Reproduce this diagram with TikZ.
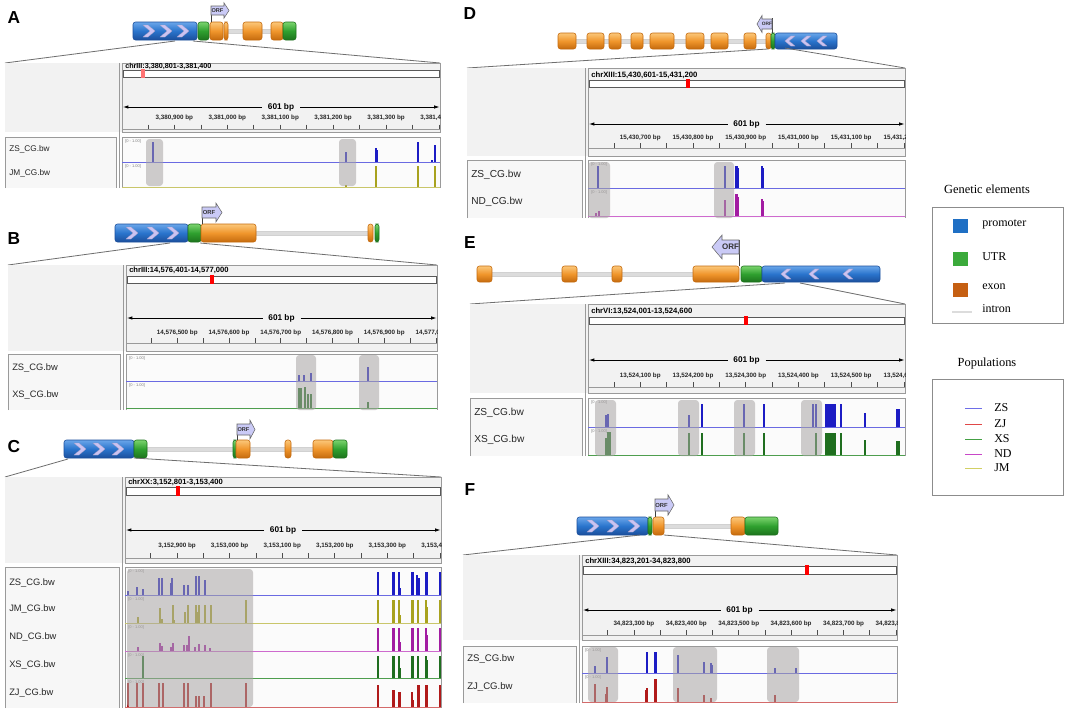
\documentclass[tikz,border=0pt]{standalone}
\usepackage{fontspec}
\setmainfont{Liberation Sans}
\newfontfamily\legfont{Liberation Serif}
\usetikzlibrary{arrows.meta}
\definecolor{hdrbg}{HTML}{F2F2F2}
\definecolor{trkbg}{HTML}{FBFBFB}
\definecolor{frm}{HTML}{9A9A9A}
\definecolor{zoomln}{HTML}{6E6E6E}
\definecolor{prmA}{HTML}{6AA6EA}
\definecolor{prmB}{HTML}{2A74CC}
\definecolor{prmC}{HTML}{1B4F9C}
\definecolor{utrA}{HTML}{7BD46E}
\definecolor{utrB}{HTML}{2FA02F}
\definecolor{utrC}{HTML}{1D731D}
\definecolor{exA}{HTML}{FBC77A}
\definecolor{exB}{HTML}{F0962C}
\definecolor{exC}{HTML}{C46A0E}
\definecolor{intr}{HTML}{DCDCDC}
\definecolor{chev}{HTML}{CBC3F2}
\definecolor{orff}{HTML}{CACAF6}
\definecolor{hlcol}{HTML}{A9A5A5}
\definecolor{zsbar}{HTML}{1C1CC4}
\definecolor{zsln}{HTML}{6A6AE2}
\definecolor{jmbar}{HTML}{A8A21E}
\definecolor{jmln}{HTML}{C9C66A}
\definecolor{ndbar}{HTML}{A21CA2}
\definecolor{ndln}{HTML}{CE6ACE}
\definecolor{xsbar}{HTML}{1F6E1F}
\definecolor{xsln}{HTML}{4E9E4E}
\definecolor{zjbar}{HTML}{B01A1A}
\definecolor{zjln}{HTML}{D46A6A}
\definecolor{lgprom}{HTML}{1F6FC4}
\definecolor{lgutr}{HTML}{3BAA3B}
\definecolor{lgexon}{HTML}{C55F12}
\definecolor{lgZS}{HTML}{6E6EE8}
\definecolor{lgZJ}{HTML}{E04848}
\definecolor{lgXS}{HTML}{44A044}
\definecolor{lgND}{HTML}{C848C8}
\definecolor{lgJM}{HTML}{D2D064}
\tikzset{
  letter/.style={inner sep=0pt,font=\fontsize{13}{13}\selectfont\bfseries},
  hdrtxt/.style={inner sep=0pt,anchor=west,font=\fontsize{\igHs}{6}\selectfont\bfseries},
  bptxt/.style={inner sep=0pt,font=\fontsize{6.2}{7}\selectfont\bfseries},
  ticktxt/.style={inner sep=0pt,font=\fontsize{4.7}{5}\selectfont\bfseries,text=black!85},
  rngtxt/.style={inner sep=0pt,anchor=west,font=\fontsize{3}{3.5}\selectfont,text=gray},
  trktxt/.style={inner sep=0pt,anchor=west,font=\fontsize{\igFs}{\igFs}\selectfont,text=black!85},
  frm/.style={draw=frm,line width=0.5pt},
  ideo/.style={draw=black!65,fill=white,line width=0.5pt},
  bparrow/.style={-{Latex[length=4pt,width=2.6pt]},line width=0.6pt},
  tickln/.style={draw=black!70,line width=0.5pt},
  zoomsty/.style={draw=zoomln,line width=0.6pt},
  exsty/.style={draw=exC,line width=0.4pt,rounded corners=1.8pt,top color=exA,bottom color=exC,middle color=exB},
  utrsty/.style={draw=utrC,line width=0.4pt,rounded corners=1.8pt,top color=utrA,bottom color=utrC,middle color=utrB},
  prmsty/.style={draw=prmC,line width=0.4pt,rounded corners=1.8pt,top color=prmA,bottom color=prmC,middle color=prmB},
  intrsty/.style={fill=intr,draw=black!18,line width=0.3pt},
  chevsty/.style={fill=chev,draw=chev!80!black,line width=0.2pt},
  orfsty/.style={fill=orff,draw=black!60,line width=0.4pt},
  flagsty/.style={draw=black!75,line width=0.5pt},
  legtitle/.style={inner sep=0pt,font=\legfont\fontsize{9.3}{10}\selectfont},
  legtxt/.style={inner sep=0pt,anchor=west,font=\legfont\fontsize{9}{10}\selectfont},
  legbox/.style={draw=black!45,line width=0.5pt}
}
\newcommand{\gexon}[2]{\draw[exsty] (#1,\gnT) rectangle (#2,\gnB);}
\newcommand{\gutr}[2]{\draw[utrsty] (#1,\gnT) rectangle (#2,\gnB);}
\newcommand{\gprom}[2]{\draw[prmsty] (#1,\gnT) rectangle (#2,\gnB);}
\newcommand{\gintr}[2]{\pgfmathsetmacro\gnM{(\gnT+\gnB)/2}\draw[intrsty] (#1,{\gnM-2.2}) rectangle (#2,{\gnM+2.2});}
\newcommand{\chevR}[3]{\filldraw[chevsty] ({#1-6*#3},{#2-6*#3}) -- ({#1-1*#3},{#2-6*#3}) -- ({#1+6*#3},#2) -- ({#1-1*#3},{#2+6*#3}) -- ({#1-6*#3},{#2+6*#3}) -- ({#1+1*#3},#2) -- cycle;}
\newcommand{\chevL}[3]{\filldraw[chevsty] ({#1+6*#3},{#2-6*#3}) -- ({#1+1*#3},{#2-6*#3}) -- ({#1-6*#3},#2) -- ({#1+1*#3},{#2+6*#3}) -- ({#1+6*#3},{#2+6*#3}) -- ({#1-1*#3},#2) -- cycle;}
\newcommand{\orfbox}[6]{\pgfmathsetmacro\orfear{(#3-#2)*0.35}\filldraw[orfsty] (#1,#2) -- (#4,#2) -- (#4,{#2-\orfear}) -- (#5,{(#2+#3)/2}) -- (#4,{#3+\orfear}) -- (#4,#3) -- (#1,#3) -- cycle; \node[inner sep=0pt,font=\fontsize{#6}{#6}\selectfont\bfseries,text=black!80] at ({(#1+#4)/2},{(#2+#3)/2}) {ORF};}
\newcommand{\igvframe}[2]{%
  \fill[hdrbg] (\igL,\igT) rectangle (\igR,\igRB);
  \fill[trkbg] (\igD,\igTr) rectangle (\igR,\igB);
  \fill[hdrbg!60!white] (\igL,\igTr) rectangle ({\igD-6},\igB);
  \draw[frm] (\igD,\igT) rectangle (\igR,\igRB);
  \draw[frm] ({\igD-3},\igT) -- ({\igD-3},\igB);
  \draw[frm] (\igL,\igB) -- (\igL,\igTr) -- ({\igD-6},\igTr) -- ({\igD-6},\igB);
  \draw[frm] (\igD,\igB) -- (\igD,\igTr) -- (\igR,\igTr) -- (\igR,\igB);
  \node[hdrtxt] at ({\igD+3},\igH) {#1};
  \draw[ideo] ({\igD+1},\igIa) rectangle ({\igR-0.5},\igIb);
  \fill[\igMc] ({\igM-1.6},{\igIa-0.6}) rectangle ({\igM+1.6},{\igIb+0.6});
  \pgfmathsetmacro\igmid{(\igD+\igR)/2}
  \node[bptxt] at (\igmid,\igA) {601 bp};
  \draw[bparrow] ({\igmid-19},\igA) -- ({\igD+1},\igA);
  \draw[bparrow] ({\igmid+19},\igA) -- ({\igR-0.5},\igA);
  \draw[frm] (\igD,\igKb) -- (\igR,\igKb);
  \foreach \k in {0,...,11}{%
    \pgfmathsetmacro\tkx{\igD+(49+50*\k)/601*(\igR-\igD)}
    \draw[tickln] (\tkx,\igKa) -- (\tkx,\igKb);}
  \begin{scope}
    \clip (\igD,\igT) rectangle (\igR,\igB);
    \foreach \k/\lab in {#2}{%
      \pgfmathsetmacro\tkx{\igD+(49+50*\k)/601*(\igR-\igD)}
      \node[ticktxt] at (\tkx,\igLb) {\lab};}
  \end{scope}
}
\newcommand{\igvtrack}[5]{%
  \node[trktxt] at ({\igL+4},#3) {#4};
  \node[rngtxt] at ({\igD+3},{#1+4}) {[0 - 1.00]};
  \draw[#5,line width=0.7pt] (\igD,#2) -- (\igR,#2);}
\newcommand{\trbars}[3]{\foreach \bx/\bt in {#3}{\draw[#1,line width=1.05pt] (\bx,#2) -- (\bx,\bt);}}
\newcommand{\hlbox}[4]{\fill[hlcol,fill opacity=0.55,rounded corners=2.5pt] (#1,#3) rectangle (#2,#4);}
\begin{document}
\begin{tikzpicture}[x=0.75pt,y=-0.75pt]
\useasboundingbox[fill=white] (0,0) rectangle (1065,711);

% ================= Panel A =================
\node[letter] (labA) at (14,18) {A};
\def\gnT{22}\def\gnB{40}
\gintr{228}{243}\gintr{262}{271}
\gprom{133}{197}
\chevR{149}{31}{1}\chevR{166}{31}{1}\chevR{183}{31}{1}
\gutr{198}{209}
\gexon{210}{223}\gexon{224}{228}\gexon{243}{262}\gexon{271}{283}\gutr{283}{296}
\draw[flagsty] (211,15) -- (211,22);
\orfbox{211}{6}{15}{224}{229}{4.2}
\def\igL{5}\def\igD{122}\def\igR{440}\def\igT{63}\def\igH{66.5}\def\igIa{70}\def\igIb{77}
\def\igM{143}\def\igMc{red!55}\def\igA{107}\def\igLb{118}\def\igKa{124.5}\def\igKb{129}
\def\igRB{132}\def\igTr{137}\def\igB{188}\def\igFs{6.2}\def\igHs{5.4}
\draw[zoomsty] (175,41) -- (\igL,\igT);
\draw[zoomsty] (193,41) -- (\igR,\igT);
\igvframe{chrIII:3,380,801-3,381,400}{1/{3,380,900 bp},3/{3,381,000 bp},5/{3,381,100 bp},7/{3,381,200 bp},9/{3,381,300 bp},11/{3,381,400 bp}}
\igvtrack{137}{162}{149}{ZS\_CG.bw}{zsln}
\igvtrack{162}{187}{173}{JM\_CG.bw}{jmln}
\trbars{zsbar}{162}{153/142, 346/152, 376/148, 377/150, 418/142, 435/145, 432/160}
\trbars{jmbar}{187}{346/185, 376/166, 418/166, 435/166}
\hlbox{146}{163}{139}{186}\hlbox{339}{356}{139}{186}

% ================= Panel B =================
\node[letter] (labB) at (14,239) {B};
\def\gnT{224}\def\gnB{242}
\gintr{256}{368}
\gprom{115}{188}
\chevR{132}{233}{1}\chevR{153}{233}{1}\chevR{173}{233}{1}
\gutr{188}{201}\gexon{201}{256}\gexon{368}{373}\gutr{375}{379}
\draw[flagsty] (202,218) -- (202,224);
\orfbox{202}{207}{218}{216}{222}{4.4}
\def\igL{8}\def\igD{126}\def\igR{437}\def\igT{265}\def\igH{270.5}\def\igIa{276}\def\igIb{283}
\def\igM{212}\def\igMc{red}\def\igA{318}\def\igLb{333}\def\igKa{338}\def\igKb{343}
\def\igRB{351}\def\igTr{354}\def\igB{410}\def\igFs{7}\def\igHs{5.7}
\draw[zoomsty] (170,243) -- (\igL,\igT);
\draw[zoomsty] (200,243) -- (\igR,\igT);
\igvframe{chrIII:14,576,401-14,577,000}{1/{14,576,500 bp},3/{14,576,600 bp},5/{14,576,700 bp},7/{14,576,800 bp},9/{14,576,900 bp},11/{14,577,000 bp}}
\igvtrack{354}{381}{368}{ZS\_CG.bw}{zsln}
\igvtrack{381}{408}{395}{XS\_CG.bw}{xsln}
\trbars{zsbar}{381}{299/375, 304/375, 311/373, 368/367}
\trbars{xsbar}{408}{299/388, 301/388, 305/387, 308/394, 311/394, 368/402}
\hlbox{296}{316}{355}{410}\hlbox{359}{379}{355}{410}

% ================= Panel C =================
\node[letter] (labC) at (14,447) {C};
\def\gnT{440}\def\gnB{458}
\gintr{147}{313}
\gprom{64}{134}
\chevR{80}{449}{1}\chevR{99}{449}{1}\chevR{118}{449}{1}
\gutr{134}{147}\gutr{233}{237}\gexon{236}{250}\gexon{285}{291}\gexon{313}{333}\gutr{333}{347}
\draw[flagsty] (237,435) -- (237,440);
\orfbox{237}{424}{435}{250}{255}{4.2}
\def\igL{5}\def\igD{125}\def\igR{441}\def\igT{477}\def\igH{482}\def\igIa{487}\def\igIb{495}
\def\igM{178}\def\igMc{red}\def\igA{530}\def\igLb{546}\def\igKa{553}\def\igKb{558}
\def\igRB{563}\def\igTr{567}\def\igB{708}\def\igFs{7}\def\igHs{5.7}
\draw[zoomsty] (68,459) -- (\igL,\igT);
\draw[zoomsty] (134,458) -- (\igR,\igT);
\igvframe{chrXX:3,152,801-3,153,400}{1/{3,152,900 bp},3/{3,153,000 bp},5/{3,153,100 bp},7/{3,153,200 bp},9/{3,153,300 bp},11/{3,153,400 bp}}
\igvtrack{567}{595}{583}{ZS\_CG.bw}{zsln}
\igvtrack{595}{623}{609}{JM\_CG.bw}{jmln}
\igvtrack{623}{651}{637}{ND\_CG.bw}{ndln}
\igvtrack{651}{678}{665}{XS\_CG.bw}{xsln}
\igvtrack{678}{707}{693}{ZJ\_CG.bw}{zjln}
\trbars{zsbar}{595}{128/591, 137/587, 143/589, 159/578, 162/578, 171/583, 172/578, 184/585, 188/585, 196/576, 199/576, 205/580, 378/572, 393/572, 394/572, 399/572, 400/588, 412/572, 413/572, 417/575, 419/578, 426/572, 427/572, 440/572}
\trbars{jmbar}{623}{138/617, 160/608, 162/619, 173/605, 174/620, 185/612, 188/605, 196/605, 198/612, 199/605, 205/605, 211/605, 246/600, 378/600, 393/600, 394/600, 399/600, 400/615, 412/600, 413/600, 418/600, 426/600, 427/607, 440/600}
\trbars{ndbar}{651}{138/647, 160/643, 162/646, 171/647, 173/643, 184/645, 187/645, 189/636, 195/647, 199/644, 205/645, 210/648, 378/628, 393/628, 394/628, 399/628, 400/642, 412/628, 413/628, 418/628, 426/628, 427/635, 440/628}
\trbars{xsbar}{678}{143/656, 378/656, 393/656, 394/656, 399/656, 400/668, 412/656, 413/656, 418/656, 426/656, 427/660, 440/656}
\trbars{zjbar}{707}{128/683, 137/683, 143/683, 159/683, 163/683, 184/683, 188/683, 196/696, 199/696, 204/696, 211/683, 246/683, 378/685, 393/690, 394/690, 399/692, 400/692, 412/692, 413/700, 418/685, 419/685, 426/685, 427/685, 440/685}
\hlbox{127}{253}{569}{707}

% ================= Panel D =================
\node[letter] (labD) at (470,14) {D};
\def\gnT{33}\def\gnB{49}
\gintr{558}{771}
\gexon{558}{576}\gexon{587}{604}\gexon{609}{621}\gexon{631}{643}\gexon{650}{674}
\gexon{686}{704}\gexon{711}{728}\gexon{744}{756}\gexon{766}{771}
\gutr{771}{775}
\gprom{775}{837}
\chevL{790}{41}{0.85}\chevL{806}{41}{0.85}\chevL{822}{41}{0.85}
\draw[flagsty] (772,18) -- (772,33);
\orfbox{772}{19}{29}{762}{757}{3.6}
\def\igL{467}\def\igD{588}\def\igR{905}\def\igT{68}\def\igH{75}\def\igIa{80}\def\igIb{87}
\def\igM{688}\def\igMc{red}\def\igA{124}\def\igLb{138}\def\igKa{143}\def\igKb{148}
\def\igRB{156}\def\igTr{160}\def\igB{218}\def\igFs{7.6}\def\igHs{5.8}
\draw[zoomsty] (768,49) -- (\igL,\igT);
\draw[zoomsty] (785,48) -- (\igR,\igT);
\igvframe{chrXIII:15,430,601-15,431,200}{1/{15,430,700 bp},3/{15,430,800 bp},5/{15,430,900 bp},7/{15,431,000 bp},9/{15,431,100 bp},11/{15,431,200 bp}}
\igvtrack{160}{188}{175}{ZS\_CG.bw}{zsln}
\igvtrack{188}{216}{202}{ND\_CG.bw}{ndln}
\trbars{zsbar}{188}{598/166, 725/166, 736/166, 737/166, 738/168, 762/166, 763/168}
\trbars{ndbar}{216}{596/213, 599/211, 725/200, 736/194, 737/194, 738/197, 762/199, 763/201}
\hlbox{588}{610}{162}{218}\hlbox{714}{734}{162}{218}

% ================= Panel E =================
\node[letter] (labE) at (470,243) {E};
\def\gnT{266}\def\gnB{282}
\gintr{477}{693}
\gexon{477}{492}\gexon{562}{577}\gexon{612}{622}\gexon{693}{739}
\gutr{741}{762}
\gprom{762}{880}
\chevL{786}{274}{0.85}\chevL{814}{274}{0.85}\chevL{848}{274}{0.85}
\draw[flagsty] (739,240) -- (739,266);
\orfbox{739}{240}{254}{722}{712}{6}
\def\igL{470}\def\igD{588}\def\igR{905}\def\igT{304}\def\igH{311}\def\igIa{317}\def\igIb{324}
\def\igM{746}\def\igMc{red}\def\igA{360}\def\igLb{376}\def\igKa{382}\def\igKb{387}
\def\igRB{393}\def\igTr{398}\def\igB{456}\def\igFs{7.6}\def\igHs{5.75}
\draw[zoomsty] (785,283) -- (\igL,\igT);
\draw[zoomsty] (800,283) -- (\igR,\igT);
\igvframe{chrVI:13,524,001-13,524,600}{1/{13,524,100 bp},3/{13,524,200 bp},5/{13,524,300 bp},7/{13,524,400 bp},9/{13,524,500 bp},11/{13,524,600 bp}}
\igvtrack{398}{427}{413}{ZS\_CG.bw}{zsln}
\igvtrack{427}{455}{440}{XS\_CG.bw}{xsln}
\trbars{zsbar}{427}{606/415, 608/414, 689/415, 702/404, 744/404, 764/404, 813/404, 816/404, 826/404, 827/404, 829/404, 831/404, 833/404, 835/404, 841/404, 865/413, 897/409, 899/409}
\trbars{xsbar}{455}{606/438, 608/432, 610/432, 689/433, 702/433, 744/433, 764/433, 816/433, 826/433, 827/433, 829/433, 831/433, 833/433, 835/433, 841/433, 865/440, 897/441, 899/441}
\hlbox{595}{616}{400}{456}\hlbox{678}{699}{400}{456}\hlbox{734}{755}{400}{456}\hlbox{801}{822}{400}{456}

% ================= Panel F =================
\node[letter] (labF) at (470,490) {F};
\def\gnT{517}\def\gnB{535}
\gintr{664}{731}
\gprom{577}{648}
\chevR{593}{526}{1}\chevR{613}{526}{1}\chevR{634}{526}{1}
\gutr{648}{652}\gexon{653}{664}\gexon{731}{745}\gutr{745}{778}
\draw[flagsty] (655,511) -- (655,517);
\orfbox{655}{499}{511}{668}{674}{4.4}
\def\igL{463}\def\igD{582}\def\igR{897}\def\igT{555}\def\igH{561}\def\igIa{566}\def\igIb{574}
\def\igM{807}\def\igMc{red}\def\igA{610}\def\igLb{624}\def\igKa{630}\def\igKb{635}
\def\igRB{640}\def\igTr{646}\def\igB{703}\def\igFs{7.2}\def\igHs{5.75}
\draw[zoomsty] (640,535) -- (\igL,\igT);
\draw[zoomsty] (664,535) -- (\igR,\igT);
\igvframe{chrXIII:34,823,201-34,823,800}{1/{34,823,300 bp},3/{34,823,400 bp},5/{34,823,500 bp},7/{34,823,600 bp},9/{34,823,700 bp},11/{34,823,800 bp}}
\igvtrack{646}{673}{659}{ZS\_CG.bw}{zsln}
\igvtrack{673}{702}{687}{ZJ\_CG.bw}{zjln}
\trbars{zsbar}{673}{595/666, 607/657, 647/652, 655/652, 656/652, 678/655, 704/662, 711/663, 712/665, 775/668, 796/668}
\trbars{zjbar}{702}{595/684, 606/694, 607/687, 646/690, 647/688, 655/679, 656/679, 678/688, 704/695, 711/698, 775/695}
\hlbox{588}{618}{647}{702}\hlbox{673}{717}{647}{702}\hlbox{767}{799}{647}{702}

% ================= Legend =================
\node[legtitle] (lgt1) at (987,189) {Genetic elements};
\draw[legbox] (932,207) rectangle (1063,323);
\fill[lgprom] (953,219) rectangle (968,233);
\node[legtxt] (lgp) at (982,224) {promoter};
\fill[lgutr] (953,252) rectangle (968,266);
\node[legtxt] (lgu) at (982,257) {UTR};
\fill[lgexon] (953,283) rectangle (968,297);
\node[legtxt] (lge) at (982,287) {exon};
\draw[intr,line width=0.8pt] (952,312) -- (972,312);
\node[legtxt] (lgi) at (982,309) {intron};
\node[legtitle] (lgt2) at (987,364) {Populations};
\draw[legbox] (932,379) rectangle (1063,495);
\draw[lgZS,line width=0.7pt] (965,408) -- (982,408);
\node[legtxt] (lzs) at (994,408) {ZS};
\draw[lgZJ,line width=0.7pt] (965,424) -- (982,424);
\node[legtxt] (lzj) at (994,424) {ZJ};
\draw[lgXS,line width=0.7pt] (965,439) -- (982,439);
\node[legtxt] (lxs) at (994,439) {XS};
\draw[lgND,line width=0.7pt] (965,454) -- (982,454);
\node[legtxt] (lnd) at (994,454) {ND};
\draw[lgJM,line width=0.7pt] (965,468) -- (982,468);
\node[legtxt] (ljm) at (994,468) {JM};
\end{tikzpicture}
\end{document}
